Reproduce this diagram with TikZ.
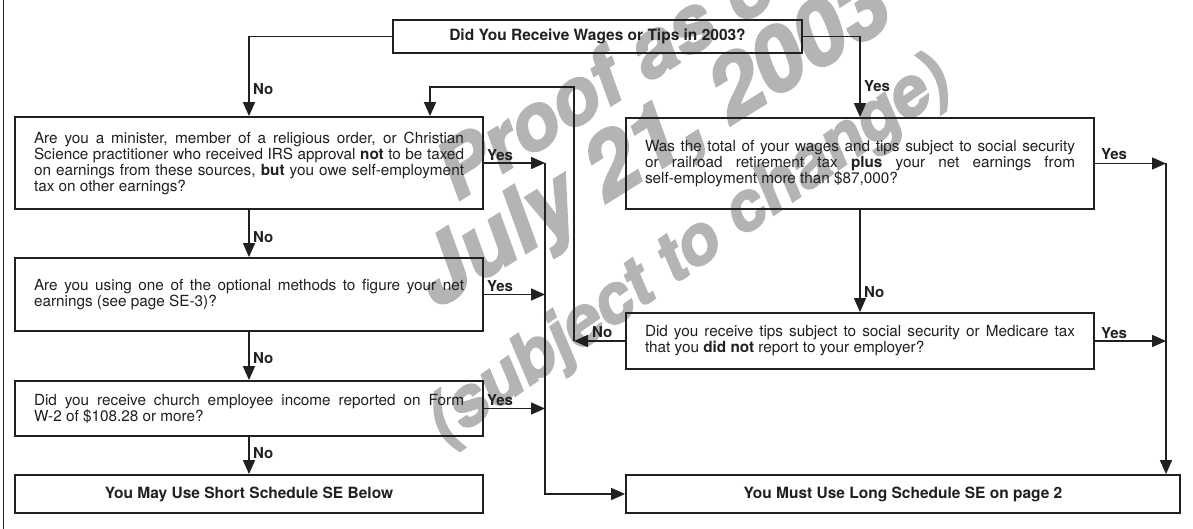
\documentclass[tikz,border=0pt]{standalone}
\usepackage{fontspec}
\setmainfont{TeX Gyre Heros}
\newfontfamily\wmfont{TeX Gyre Heros}[FakeBold=2.5]
\usetikzlibrary{arrows.meta}
\definecolor{ink}{HTML}{231F20}
\definecolor{wmark}{HTML}{B4B4B4}
\newcommand\jstfy{\leftskip=0pt\rightskip=0pt\parfillskip=0pt plus 1fil\spaceskip=0pt\xspaceskip=0pt\relax}
\tikzset{
  qbox/.style={draw=ink, line width=1.8pt, inner xsep=0pt, inner ysep=0pt,
    minimum width=468pt, text width=430pt, text=ink,
    font=\fontsize{15.3}{16}\selectfont},
  endbox/.style={draw=ink, line width=1.8pt, inner sep=0pt, minimum height=38pt,
    text=ink, font=\bfseries\fontsize{15.5}{17}\selectfont},
  conn/.style={draw=ink, line width=1.5pt},
  arr/.style={conn, -{Triangle[length=14pt,width=12pt]}},
  lbl/.style={font=\bfseries\fontsize{15}{17}\selectfont, text=ink, inner sep=0pt},
  wm/.style={text=wmark, inner sep=0pt}
}
\begin{document}
\hyphenpenalty=10000
\exhyphenpenalty=10000
\tolerance=9999
\begin{tikzpicture}[x=1pt,y=-1pt]
\useasboundingbox (0,0) rectangle (1193,529);
\fill[white] (0,0) rectangle (1193,529);
\begin{scope}
\clip (0,0) rectangle (1193,529);
\node[wm, rotate=32, font=\wmfont\bfseries\itshape\fontsize{78}{78}\selectfont] (w1) at (615,70) {Proof as of};
\node[wm, rotate=32, font=\wmfont\bfseries\itshape\fontsize{88}{88}\selectfont] (w2) at (655,146) {July 21, 2003};
\node[wm, rotate=35, font=\wmfont\bfseries\itshape\fontsize{68}{68}\selectfont] (w3) at (690,252) {(subject to change)};
\end{scope}
\draw[ink, line width=1.3pt] (3.5,0) -- (3.5,529);

\node[endbox, minimum width=409pt, minimum height=33pt] (top) at (597.5,36.5) {Did You Receive Wages or Tips in 2003?};
\node[qbox, minimum height=92pt] (q1) at (249,163) {\jstfy Are you a minister, member of a religious order, or Christian\linebreak Science practitioner who received IRS approval \textbf{not} to be taxed\linebreak on earnings from these sources, \textbf{but} you owe \mbox{self-employment}\linebreak tax on other earnings?\par};
\node[qbox, minimum height=73pt] (q2) at (249,294.5) {\jstfy Are you using one of the optional methods to figure your net\linebreak earnings (see page SE-3)?\par};
\node[qbox, minimum height=55pt] (q5) at (249,408.5) {\jstfy Did you receive church employee income reported on Form\linebreak \mbox{W-2} of \$108.28 or more?\par};
\node[endbox, minimum width=468pt] (short) at (249,494) {You May Use Short Schedule SE Below};
\node[qbox, minimum height=91pt] (q3) at (860,163.5) {\jstfy Was the total of your wages and tips subject to social security\linebreak or railroad retirement tax \textbf{plus} your net earnings from\linebreak \mbox{self-employment} more than \$87,000?\par};
\node[qbox, minimum height=56pt] (q4) at (860,341) {\jstfy Did you receive tips subject to social security or Medicare tax\linebreak that you \textbf{did not} report to your employer?\par};
\node[endbox, minimum width=554pt] (long) at (903,494) {You Must Use Long Schedule SE on page 2};

\coordinate (colx) at (545,0);
\coordinate (rx) at (1166,0);
\coordinate (loopx) at (574,0);
\coordinate (loopy) at (430,87);

\draw[arr] (top.west) -| (q1.north);
\draw[arr] (top.east) -| (q3.north);
\draw[arr] (q1.south) -- (q2.north);
\draw[arr] (q2.south) -- (q5.north);
\draw[arr] (q5.south) -- (short.north);
\draw[arr] (q3.south) -- (q4.north);

\draw[arr] (q1.east) -- (q1.east -| colx);
\draw[arr] (q2.east) -- (q2.east -| colx);
\draw[arr] (q5.east) -- (q5.east -| colx);
\draw[arr] (q1.east -| colx) |- (long.west);

\draw[arr] (q3.east) -- (q3.east -| rx);
\draw[arr] (q4.east) -- (q4.east -| rx);
\draw[arr] (q3.east -| rx) -- (long.north -| rx);

\draw[arr] (q4.west) -- (q4.west -| loopx);
\draw[arr] (q4.west -| loopx) |- (loopy) -- (loopy |- q1.north);

\node[lbl, anchor=west] (nA) at (253,89) {No};
\node[lbl, anchor=west] (yA) at (864,86) {Yes};
\node[lbl, anchor=west] (y1) at (487,155) {Yes};
\node[lbl, anchor=west] (n1) at (253,237) {No};
\node[lbl, anchor=west] (y2) at (487,286) {Yes};
\node[lbl, anchor=west] (n2) at (253,358) {No};
\node[lbl, anchor=west] (y5) at (487,400) {Yes};
\node[lbl, anchor=west] (n5) at (253,453) {No};
\node[lbl, anchor=west] (y3) at (1101,154) {Yes};
\node[lbl, anchor=west] (n3) at (864,292) {No};
\node[lbl, anchor=west] (y4) at (1101,333) {Yes};
\node[lbl, anchor=west] (n4) at (592,332) {No};
\end{tikzpicture}
\end{document}
